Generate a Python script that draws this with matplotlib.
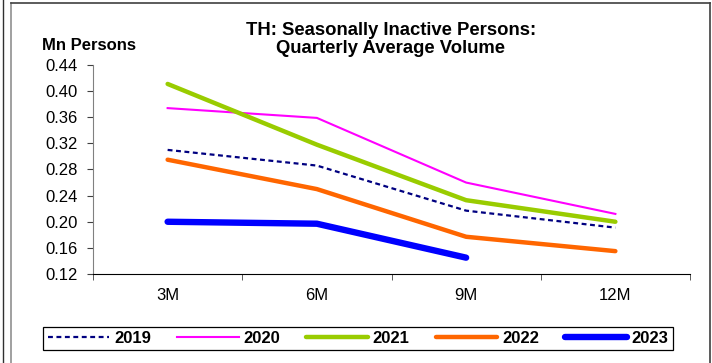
import matplotlib
matplotlib.use("Agg")
import matplotlib.pyplot as plt
from matplotlib.lines import Line2D

plt.rcParams['font.family'] = ['Liberation Sans', 'DejaVu Sans']

# quarterly average volume, million persons
periods = ['3M', '6M', '9M', '12M']
y2019 = [0.310, 0.286, 0.217, 0.191]
y2020 = [0.374, 0.359, 0.260, 0.212]
y2021 = [0.411, 0.318, 0.233, 0.200]
y2022 = [0.295, 0.250, 0.177, 0.155]
y2023 = [0.200, 0.197, 0.145]

yticks = [0.12, 0.16, 0.20, 0.24, 0.28, 0.32, 0.36, 0.40, 0.44]

W, H = 712, 363
fig = plt.figure(figsize=(W / 100, H / 100), dpi=100)
ax = fig.add_axes([93 / W, 1 - 274 / H, 597 / W, 209 / H])

x = list(range(len(periods)))
ax.plot(x, y2019, color='#000080', lw=1.6, ls=(0, (2.2, 1.6)), label='2019')
ax.plot(x, y2020, color='#FF00FF', lw=1.5, label='2020')
ax.plot(x, y2021, color='#99CC00', lw=3.2, solid_capstyle='round', label='2021')
ax.plot(x, y2022, color='#FF6600', lw=3.2, solid_capstyle='round', label='2022')
ax.plot(x[:len(y2023)], y2023, color='#0000FF', lw=4.6, solid_capstyle='round', label='2023')

ax.set_xlim(-0.5, len(periods) - 0.5)
ax.set_ylim(0.12, 0.44)
ax.set_yticks(yticks)
ax.set_yticklabels([f'{v:.2f}' for v in yticks], fontsize=12)
# category labels centred, tick marks on the boundaries
ax.set_xticks(x)
ax.set_xticklabels(periods, fontsize=12)
ax.tick_params(axis='x', which='major', length=0, pad=10)
ax.set_xticks([i + 0.5 for i in range(-1, len(periods))], minor=True)
ax.tick_params(axis='x', which='minor', length=4, color='#404040')
ax.tick_params(axis='y', length=4, color='#404040', pad=7)

for s in ['top', 'right']:
    ax.spines[s].set_visible(False)
ax.spines['left'].set_color('#808080')
ax.spines['bottom'].set_color('black')

fig.text(391 / W, 1 - 39.5 / H, 'TH: Seasonally Inactive Persons:\nQuarterly Average Volume',
         ha='center', va='center', fontsize=13.3, fontweight='bold', linespacing=1.12)
fig.text(42 / W, 1 - 45 / H, 'Mn Persons', ha='left', va='center',
         fontsize=12, fontweight='bold')

leg = fig.legend(loc='center', bbox_to_anchor=(358 / W, 1 - 338.5 / H), ncol=5,
                 prop={'weight': 'bold', 'size': 12}, handlelength=3.7,
                 handletextpad=0.3, columnspacing=1.55, borderpad=0.25,
                 fancybox=False, edgecolor='black', framealpha=1)
leg.get_frame().set_linewidth(0.9)

# outer chart border and neighbouring frame edge
fig.add_artist(Line2D([11 / W, 11 / W], [0, 1 - 3 / H], color='#909090', lw=1.2))
fig.add_artist(Line2D([11 / W, 710 / W], [1 - 3 / H, 1 - 3 / H], color='#404040', lw=1.2))
fig.add_artist(Line2D([710 / W, 710 / W], [0, 1 - 3 / H], color='#404040', lw=1.2))
fig.add_artist(Line2D([3 / W, 3 / W], [0, 1], color='#303030', lw=1.0))

fig.savefig('out.png', dpi=100)
